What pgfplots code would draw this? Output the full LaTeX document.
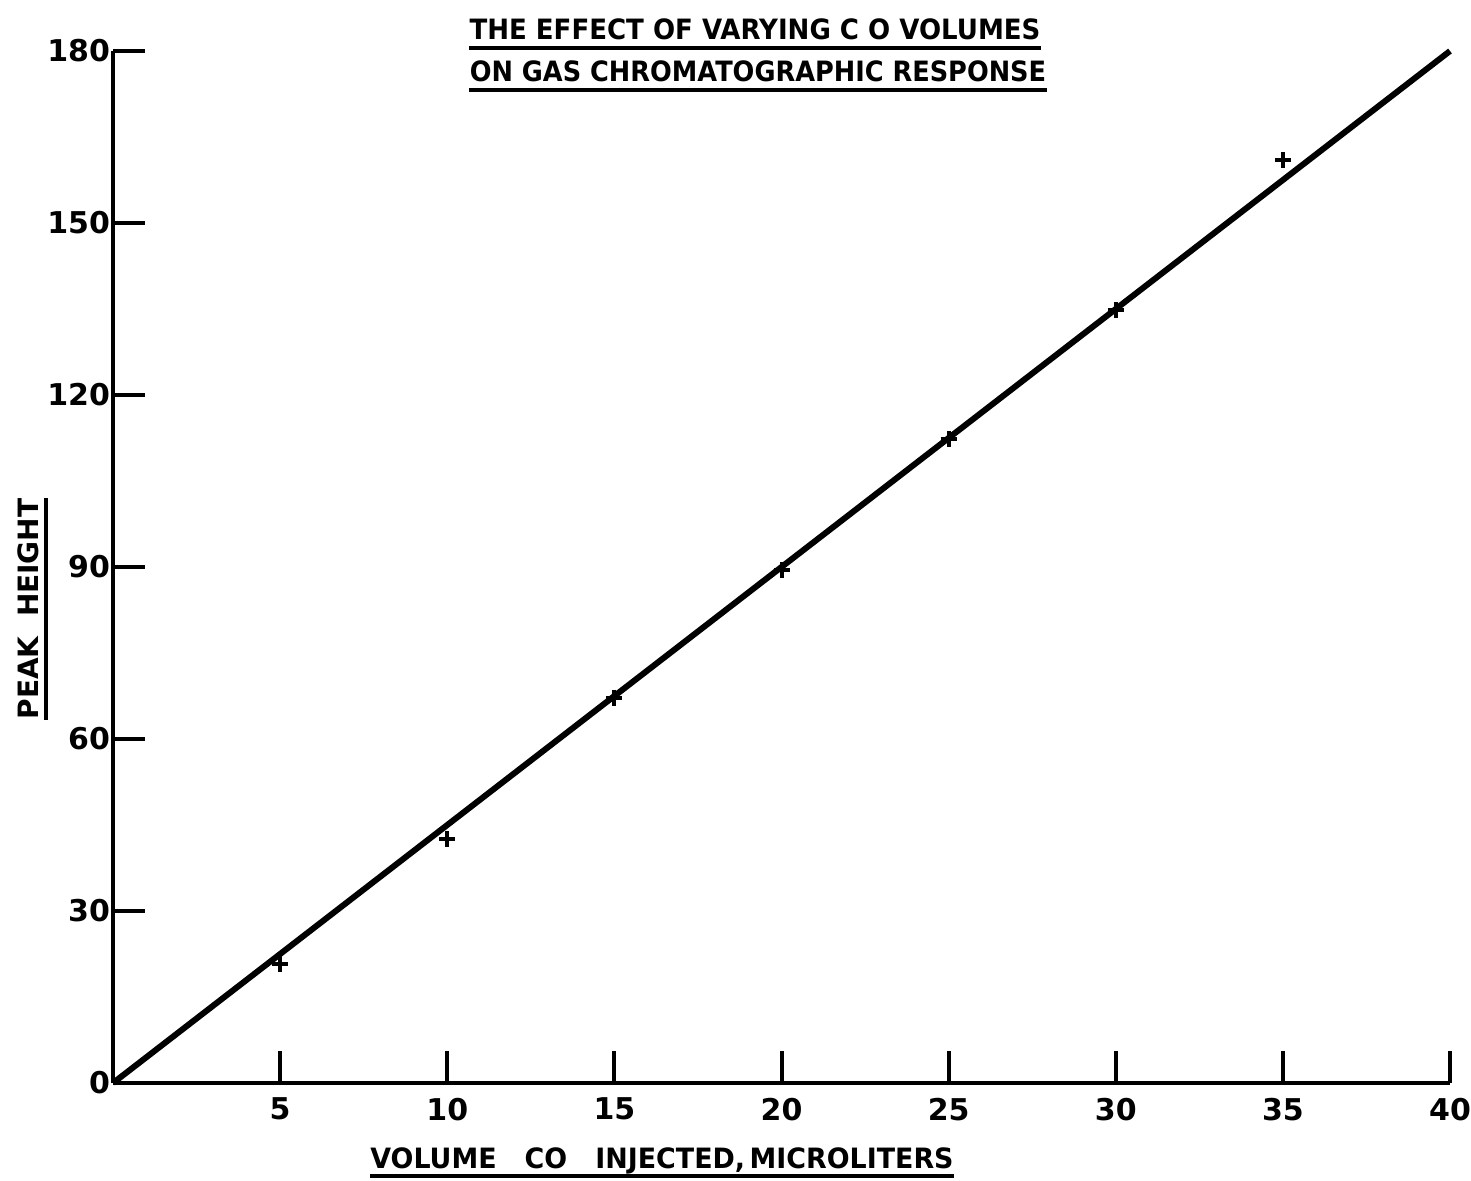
\documentclass[border=0pt]{standalone}
\usepackage{fontspec}
\setmainfont{DejaVu Sans}
\usepackage{graphicx}
\usepackage{pgfplots}
\pgfplotsset{compat=1.18}
\begin{document}
\begin{tikzpicture}
\useasboundingbox (0,0) rectangle (735.5pt,590pt);
\begin{axis}[
  at={(56.5pt,48.5pt)}, anchor=south west,
  scale only axis, width=668.5pt, height=516pt,
  xmin=0, xmax=40, ymin=0, ymax=180,
  axis x line=bottom, axis y line=left,
  axis line style={-, line width=2pt},
  xtick={5,10,...,40}, ytick={0,30,...,180},
  tick align=inside, major tick length=16pt,
  tick style={line width=2pt, black},
  ticklabel style={font=\fontsize{15}{17}\selectfont\bfseries},
  /pgf/number format/assume math mode=true,
  xticklabel style={yshift=-4pt},
  yticklabel style={xshift=2pt},
  clip=false,
]
\addplot[no marks, line width=3pt, black] coordinates {(0,0) (40,180)};
\addplot[only marks, mark=+, mark size=4pt, line width=2pt, black]
  coordinates {(5,20.8) (10,42.5) (15,67.2) (20,89.5) (25,112.3) (30,134.8) (35,161)};
\end{axis}
\begin{scope}[font=\fontsize{14}{16}\selectfont\bfseries]
\node[anchor=base, inner sep=0] (t1) at (377.5pt,570pt) {\scalebox{0.93}[1]{THE EFFECT OF VARYING C O VOLUMES}};
\draw[line width=2pt] ([yshift=-4pt]t1.base west) -- ([yshift=-4pt]t1.base east);
\node[anchor=base, inner sep=0] (t2) at (379pt,549pt) {\scalebox{0.915}[1]{ON GAS CHROMATOGRAPHIC RESPONSE}};
\draw[line width=2pt] ([yshift=-4pt]t2.base west) -- ([yshift=-4pt]t2.base east);
\node[anchor=base, inner sep=0] (t3) at (331pt,6pt) {\scalebox{0.96}[1]{VOLUME\ \ \ CO\ \ \ INJECTED,\,MICROLITERS}};
\draw[line width=2pt] ([yshift=-4pt]t3.base west) -- ([yshift=-4pt]t3.base east);
\node[anchor=base, inner sep=0, rotate=90] (t4) at (19pt,285.5pt) {PEAK\ \ HEIGHT};
\draw[line width=2pt] ([xshift=4pt]t4.base west) -- ([xshift=4pt]t4.base east);
\end{scope}
\end{tikzpicture}
\end{document}
